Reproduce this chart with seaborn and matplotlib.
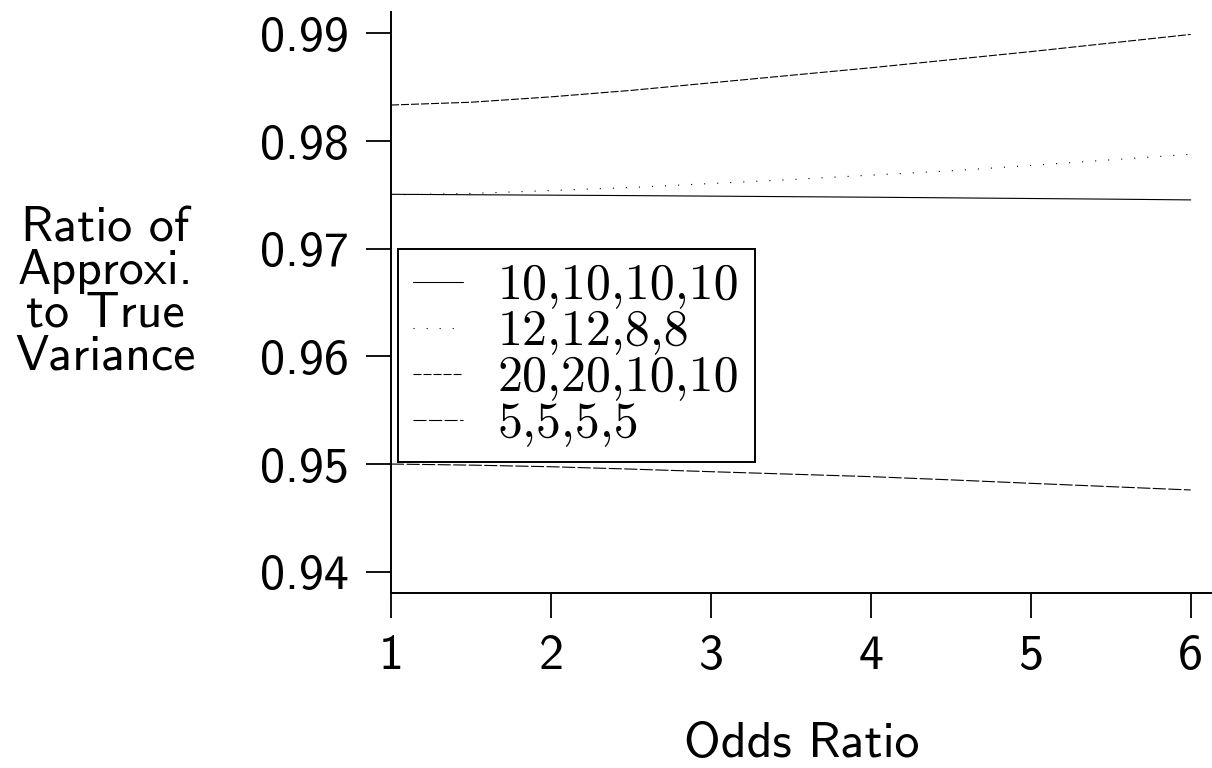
import matplotlib
matplotlib.use('Agg')
import matplotlib.pyplot as plt
import seaborn as sns
import pandas as pd

# odds ratio grid and the four designs (n11,n12,n21,n22)
odds_ratio = [1.0, 1.5, 2.0, 2.5, 3.0, 3.5, 4.0, 4.5, 5.0, 5.5, 6.0]
ratio_10_10_10_10 = [0.97505, 0.97501, 0.97497, 0.97493, 0.97488, 0.97483, 0.97478, 0.97472, 0.97466, 0.97460, 0.97453]
ratio_12_12_8_8 = [0.97500, 0.97513, 0.97540, 0.97568, 0.97605, 0.97642, 0.97683, 0.97723, 0.97773, 0.97825, 0.97877]
ratio_20_20_10_10 = [0.98334, 0.98360, 0.98410, 0.98470, 0.98540, 0.98610, 0.98680, 0.98755, 0.98830, 0.98910, 0.98990]
ratio_5_5_5_5 = [0.95000, 0.94990, 0.94975, 0.94953, 0.94929, 0.94906, 0.94883, 0.94853, 0.94821, 0.94790, 0.94759]

labels = ['10,10,10,10', '12,12,8,8', '20,20,10,10', '5,5,5,5']
series = [ratio_10_10_10_10, ratio_12_12_8_8, ratio_20_20_10_10, ratio_5_5_5_5]
styles = ['-', (0, (0.8, 8.6)), (0, (5.8, 1.4)), (0, (9.4, 1.8))]

yticks = [0.94, 0.95, 0.96, 0.97, 0.98, 0.99]
ytick_labels = ['0.94', '0.95', '0.96', '0.97', '0.98', '0.99']
xticks = [1, 2, 3, 4, 5, 6]

sns.set_style('ticks')
plt.rcParams['font.family'] = ['cmss10', 'DejaVu Sans']
plt.rcParams['lines.scale_dashes'] = False
for k in ['text.color', 'axes.labelcolor', 'xtick.color', 'ytick.color', 'axes.edgecolor']:
    plt.rcParams[k] = 'black'

fig = plt.figure(figsize=(12.12, 7.68), dpi=100)
ax = fig.add_axes([391 / 1212, 1 - 592.7 / 768, 1 - 391 / 1212, (592.7 - 12) / 768])

for lab, vals, ls in zip(labels, series, styles):
    df = pd.DataFrame({'odds': odds_ratio, 'ratio': vals})
    sns.lineplot(data=df, x='odds', y='ratio', ax=ax, color='black',
                 linewidth=0.8, linestyle=ls, label=lab)

ax.set_xlim(1, 6.133)
ax.set_ylim(0.938052, 0.99198)
ax.set_xticks(xticks)
ax.set_xticklabels([str(t) for t in xticks])
ax.set_yticks(yticks)
ax.set_yticklabels(ytick_labels)
ax.tick_params(axis='both', direction='out', length=18, width=1.3, labelsize=36)
ax.tick_params(axis='x', pad=12)
ax.tick_params(axis='y', pad=12)
sns.despine(ax=ax)
for s in ['left', 'bottom']:
    ax.spines[s].set_linewidth(1.4)

ax.set_xlabel('Odds Ratio', fontsize=36)
ax.xaxis.set_label_coords(0.5, (592.7 - 757) / 580.7)
ax.xaxis.label.set_verticalalignment('baseline')

ax.set_ylabel('Ratio of\nApproxi.\nto True\nVariance', fontsize=36, rotation=0,
              ha='center', va='center', linespacing=0.93)
ax.yaxis.set_label_coords((105 - 391) / 821, (592.7 - 293) / 580.7)

leg = ax.legend(loc='lower left', bbox_to_anchor=(398 / 1212, 1 - 462 / 768),
                bbox_transform=fig.transFigure, borderaxespad=0,
                prop={'family': 'cmr10', 'size': 36},
                frameon=True, fancybox=False, edgecolor='black', framealpha=1,
                handlelength=1.0, handletextpad=0.7, labelspacing=0.0, borderpad=0.3)
leg.get_frame().set_linewidth(1.4)

fig.savefig('out.png', dpi=100)
